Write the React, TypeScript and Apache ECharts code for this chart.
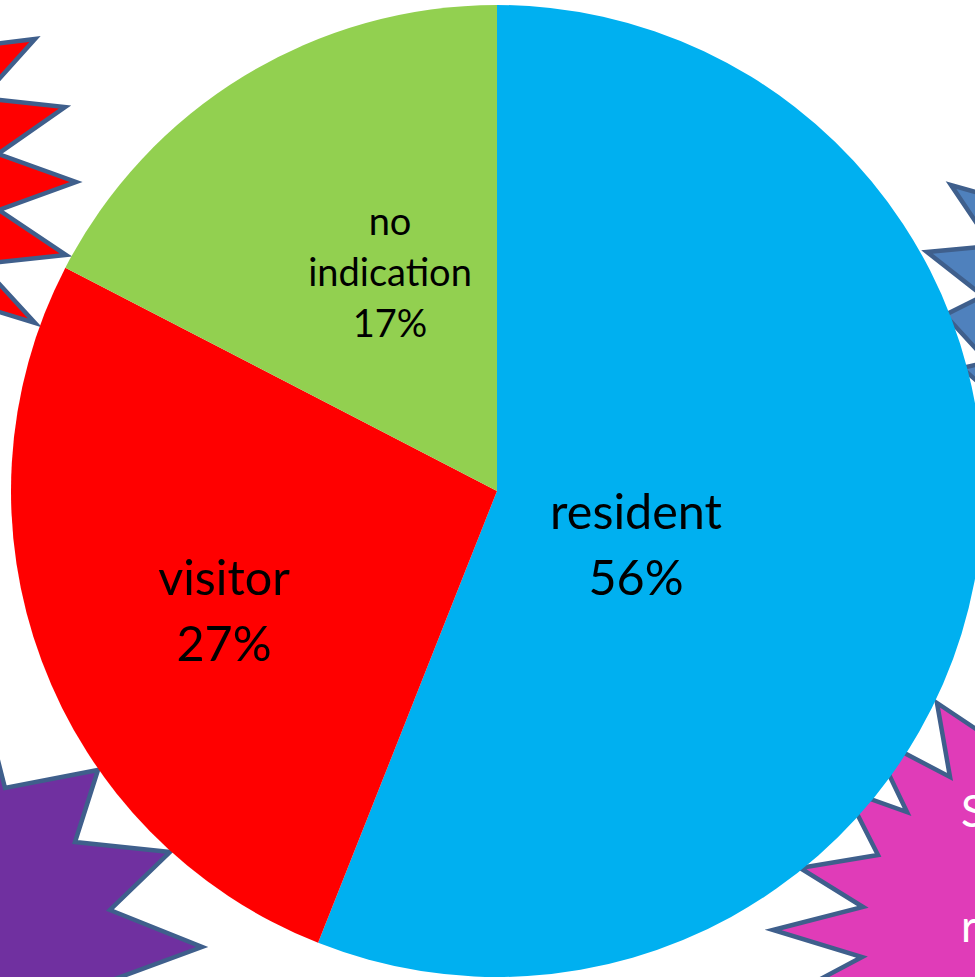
import { useEffect, useRef } from "react";
import * as echarts from "echarts";

// ---- data ----
const categories = ["resident", "visitor", "no indication"];
const values = [56, 26.6, 17.4];
const sliceColors = ["#00b0f0", "#ff0000", "#92d050"];

// ---- layout (not data) ----
const labelCenters: Record<string, [number, number]> = {
  resident: [636, 543],
  visitor: [224, 609],
  "no indication": [390, 271],
};
const labelSizes: Record<string, [number, number]> = {
  resident: [48.5, 66],
  visitor: [48.5, 66],
  "no indication": [38, 51],
};

const stroke = "#3f5f8c";
const redStar = [
  [-40, 48], [35, 39], [-18, 98], [65, 107], [-2, 154], [76, 182],
  [-1, 210], [66, 255], [-19, 264], [35, 323], [-40, 300],
];
const blueStar = [
  [1000, 199], [951, 185], [992, 246], [927, 252], [983, 296], [945, 315],
  [988, 362], [962, 368], [1010, 410], [1040, 300],
];
const purpleStar = [
  [-20, 690], [5, 788], [98, 770], [75, 842], [170, 852], [110, 910],
  [202, 947], [85, 990], [-20, 990],
];
const magentaStar = [
  [1000, 745], [937, 703], [950, 777], [870, 735], [907, 812], [845, 790],
  [878, 855], [800, 868], [863, 907], [773, 930], [862, 957], [800, 990],
  [1010, 990],
];

export default function App() {
  const ref = useRef<HTMLDivElement>(null);
  useEffect(() => {
    if (!ref.current) return;
    const chart = echarts.init(ref.current, null, { renderer: "svg" });
    const star = (pts: number[][], fill: string) => ({
      type: "polygon",
      z: 0,
      shape: { points: pts },
      style: { fill, stroke, lineWidth: 4.5, lineJoin: "miter" },
    });
    chart.setOption({
      animation: false,
      backgroundColor: "#ffffff",
      graphic: [
        star(redStar, "#ff0000"),
        star(blueStar, "#4f81bd"),
        star(purpleStar, "#7030a0"),
        star(magentaStar, "#e03cb8"),
        {
          type: "text",
          z: 1,
          x: 961,
          y: 832,
          style: { text: "S", fill: "#ffffff", font: "44px Lato", textVerticalAlign: "bottom" },
        },
        {
          type: "text",
          z: 1,
          x: 961,
          y: 947,
          style: { text: "r", fill: "#ffffff", font: "44px Lato", textVerticalAlign: "bottom" },
        },
      ],
      series: [
        {
          type: "pie",
          z: 10,
          center: [497, 491],
          radius: [0, 486],
          startAngle: 90,
          clockwise: true,
          percentPrecision: 0,
          silent: true,
          itemStyle: { borderWidth: 0 },
          label: {
            show: true,
            position: "inside",
            color: "#000000",
            fontFamily: "Lato",
            formatter: (p: any) => `${p.name.replace(" ", "\n")}\n${p.percent}%`,
          },
          labelLine: { show: false },
          labelLayout: (p: any) => {
            const name = categories[p.dataIndex];
            const c = labelCenters[name];
            return { x: c[0], y: c[1], align: "center", verticalAlign: "middle" };
          },
          data: categories.map((name, i) => ({
            name,
            value: values[i],
            itemStyle: { color: sliceColors[i] },
            label: { fontSize: labelSizes[name][0], lineHeight: labelSizes[name][1] },
          })),
        },
      ],
    });
    return () => chart.dispose();
  }, []);
  return (
    <div
      ref={ref}
      style={{ position: "fixed", left: 0, top: 0, width: 975, height: 977 }}
    />
  );
}
